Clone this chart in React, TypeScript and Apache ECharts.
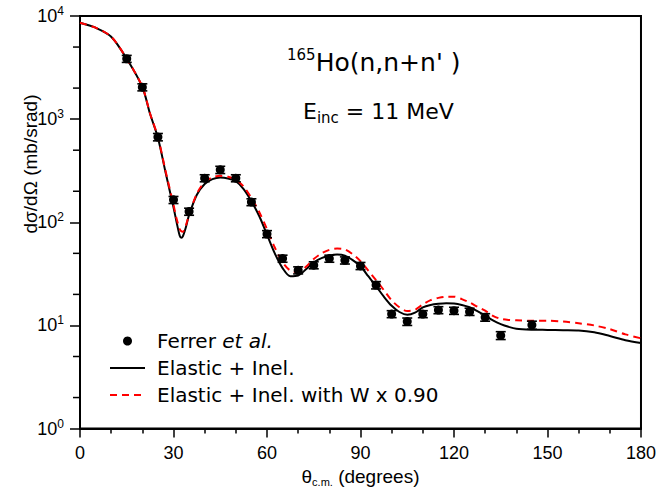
import { useEffect, useRef } from 'react';
import * as echarts from 'echarts';

// Angles (degrees, c.m.) at which the model curves are tabulated
const curveAngles = [
  0, 5, 10, 15, 20, 22.5, 25, 27.5, 30, 31, 32, 32.5, 33, 34, 35, 37.5, 40, 42.5, 45, 47.5,
  50, 52.5, 55, 57.5, 60, 62.5, 65, 67.5, 70, 72.5, 75, 77.5, 80, 82.5, 85, 87.5, 90, 92.5,
  95, 97.5, 100, 102.5, 105, 107.5, 110, 112.5, 115, 117.5, 120, 122.5, 125, 127.5, 130,
  132.5, 135, 137.5, 140, 145, 150, 155, 160, 165, 170, 175, 180,
];

// Elastic + inelastic calculation (mb/srad)
const elasticInel = [
  8600, 7700, 6300, 3850, 2050, 1120, 660, 300, 140, 100, 74, 71, 73, 90, 118, 185, 235, 262, 272, 266,
  250, 210, 160, 115, 76, 50, 36, 30, 30.5, 35, 41, 45, 47.5, 48.6, 47.5, 43, 37.5, 30,
  24, 19, 15.5, 13.5, 12.7, 13.3, 15, 15.8, 16.2, 16.4, 16.3, 15.8, 15, 13.8, 12.5,
  11.2, 10.3, 9.7, 9.3, 9.1, 9.05, 9.0, 8.95, 8.6, 7.9, 7.2, 6.75,
];

// Same calculation with the imaginary potential W scaled by 0.90
const elasticInelW090 = [
  8600, 7700, 6300, 3850, 2060, 1130, 670, 310, 148, 108, 86, 82, 81, 94, 118, 190, 245, 272, 282, 276,
  260, 222, 172, 126, 86, 57, 41, 34, 33, 37, 44, 50, 54, 55.6, 54.5, 49, 42, 34,
  27.5, 22, 17.5, 15, 13.8, 14.2, 16, 17.6, 18.5, 19, 19, 18, 16.7, 15.2, 13.9,
  12.4, 11.6, 11.3, 11.2, 11.1, 11.1, 10.9, 10.5, 10.0, 9.2, 8.2, 7.5,
];

// Ferrer et al. measurement
const ferrerAngles = [15, 20, 25, 30, 35, 40, 45, 50, 55, 60, 65, 70, 75, 80, 85, 90, 95, 100, 105, 110, 115, 120, 125, 130, 135, 145];
const ferrerValues = [3850, 2040, 671, 165, 127, 268, 323, 268, 157, 77, 44.5, 34.3, 38.4, 44.5, 42.8, 37.8, 24.6, 12.9, 10.9, 12.9, 14.1, 13.9, 13.6, 12.0, 8.0, 10.1];
const ferrerErrors = [300, 160, 55, 13, 10, 21, 26, 21, 12, 6, 3.5, 2.7, 3.0, 3.5, 3.4, 3.0, 2.0, 1.0, 0.9, 1.0, 1.1, 1.1, 1.1, 1.0, 0.7, 0.9];

// Log-axis minor tick positions (2 and 5 of every decade)
const minorTickValues = [2, 5, 20, 50, 200, 500, 2000, 5000];

const SANS = "'Liberation Sans', Arial, Helvetica, sans-serif";
const WIDE = "'DejaVu Sans', sans-serif";

export default function App() {
  const ref = useRef<HTMLDivElement>(null);

  useEffect(() => {
    if (!ref.current) return;
    const chart = echarts.init(ref.current, undefined, { renderer: 'svg' });

    const blackCurve = curveAngles.map((a, i) => [a, elasticInel[i]]);
    const redCurve = curveAngles.map((a, i) => [a, elasticInelW090[i]]);
    const points = ferrerAngles.map((a, i) => [a, ferrerValues[i]]);
    const errBars = ferrerAngles.map((a, i) => [a, ferrerValues[i] - ferrerErrors[i], ferrerValues[i] + ferrerErrors[i]]);

    chart.setOption({
      animation: false,
      backgroundColor: '#fff',
      title: [
        {
          text: "{s|165}{m|Ho(n,n+n' )}",
          left: 287,
          top: 47,
          padding: 0,
          textStyle: {
            fontWeight: 'normal',
            rich: {
              s: { fontFamily: WIDE, fontSize: 15, fontWeight: 'normal', color: '#000', verticalAlign: 'top', lineHeight: 15 },
              m: { fontFamily: WIDE, fontSize: 25, fontWeight: 'normal', color: '#000', lineHeight: 30 },
            },
          },
        },
        {
          text: '{m|E}{s|inc}{m| = 11 MeV}',
          left: 303,
          top: 97,
          padding: 0,
          textStyle: {
            fontWeight: 'normal',
            rich: {
              m: { fontFamily: WIDE, fontSize: 22, fontWeight: 'normal', color: '#000', lineHeight: 28 },
              s: { fontFamily: WIDE, fontSize: 15, fontWeight: 'normal', color: '#000', verticalAlign: 'bottom', lineHeight: 18 },
            },
          },
        },
      ],
      grid: {
        left: 80,
        right: 16,
        top: 16,
        bottom: 61,
        show: true,
        borderColor: '#000',
        borderWidth: 2,
        containLabel: false,
      },
      legend: {
        orient: 'vertical',
        left: 104,
        top: 326,
        itemWidth: 35,
        itemHeight: 9,
        itemGap: 7,
        selectedMode: false,
        data: [
          { name: 'Ferrer et al.' },
          { name: 'Elastic + Inel.', itemStyle: { opacity: 0 } },
          { name: 'Elastic + Inel. with W x 0.90', itemStyle: { opacity: 0 } },
        ],
        formatter: (name: string) => (name === 'Ferrer et al.' ? 'Ferrer {i|et al.}' : name),
        textStyle: {
          fontFamily: WIDE,
          fontSize: 20,
          color: '#000',
          padding: [0, 0, 0, 7],
          rich: {
            i: { fontFamily: WIDE, fontSize: 20, fontStyle: 'italic', color: '#000' },
          },
        },
      },
      xAxis: {
        type: 'value',
        min: 0,
        max: 180,
        interval: 30,
        name: '{t|θ}{s|c.m.}{t| (degrees)}',
        nameLocation: 'middle',
        nameGap: 36,
        nameTextStyle: {
          rich: {
            t: { fontFamily: SANS, fontSize: 19, color: '#000', lineHeight: 22 },
            s: { fontFamily: SANS, fontSize: 11, color: '#000', verticalAlign: 'bottom', lineHeight: 10 },
          },
        },
        axisLine: { show: true, lineStyle: { color: '#000', width: 2 } },
        axisTick: { show: true, inside: false, length: 9, lineStyle: { color: '#000', width: 1.5 } },
        minorTick: { show: true, splitNumber: 3, length: 5, lineStyle: { color: '#000', width: 1.5 } },
        splitLine: { show: false },
        axisLabel: { fontFamily: SANS, fontSize: 18, color: '#000', margin: 15 },
      },
      yAxis: {
        type: 'log',
        logBase: 10,
        min: 1,
        max: 10000,
        axisLine: { show: true, lineStyle: { color: '#000', width: 2 } },
        axisTick: { show: true, inside: false, length: 10, lineStyle: { color: '#000', width: 1.5 } },
        splitLine: { show: false },
        axisLabel: {
          margin: 16,
          formatter: (v: number) => '{b|10}{s|' + Math.round(Math.log10(v)) + '}',
          rich: {
            b: { fontFamily: SANS, fontSize: 18, color: '#000', lineHeight: 22 },
            s: { fontFamily: SANS, fontSize: 12, color: '#000', verticalAlign: 'top', lineHeight: 12 },
          },
        },
      },
      graphic: [
        {
          type: 'text',
          x: 30,
          y: 164,
          rotation: Math.PI / 2,
          style: {
            text: 'dσ/dΩ (mb/srad)',
            font: `19px ${SANS}`,
            fill: '#000',
            textAlign: 'center',
            textVerticalAlign: 'middle',
          },
        },
      ],
      series: [
        {
          name: 'Elastic + Inel.',
          type: 'line',
          data: blackCurve,
          symbol: 'none',
          smooth: 0.3,
          lineStyle: { color: '#000', width: 2 },
          itemStyle: { color: '#000' },
          z: 2,
        },
        {
          name: 'Elastic + Inel. with W x 0.90',
          type: 'line',
          data: redCurve,
          symbol: 'none',
          smooth: 0.3,
          lineStyle: { color: '#ff0000', width: 2, type: [7, 5] },
          itemStyle: { color: '#ff0000' },
          z: 3,
        },
        {
          name: 'ferrer-errors',
          type: 'custom',
          data: errBars,
          encode: { x: 0, y: [1, 2] },
          silent: true,
          z: 4,
          renderItem: (_params: any, api: any) => {
            const x = api.value(0);
            const lo = api.coord([x, api.value(1)]);
            const hi = api.coord([x, api.value(2)]);
            const hw = 5;
            const style = { stroke: '#000', lineWidth: 1.6 };
            return {
              type: 'group',
              children: [
                { type: 'line', shape: { x1: lo[0], y1: lo[1], x2: hi[0], y2: hi[1] }, style },
                { type: 'line', shape: { x1: lo[0] - hw, y1: lo[1], x2: lo[0] + hw, y2: lo[1] }, style },
                { type: 'line', shape: { x1: hi[0] - hw, y1: hi[1], x2: hi[0] + hw, y2: hi[1] }, style },
              ],
            };
          },
        },
        {
          name: 'Ferrer et al.',
          type: 'scatter',
          data: points,
          symbol: 'circle',
          symbolSize: 9,
          itemStyle: { color: '#000', opacity: 1 },
          z: 5,
        },
        {
          name: 'minor-ticks',
          type: 'scatter',
          data: minorTickValues.map((v) => [0, v]),
          symbol: 'rect',
          symbolSize: [6, 1.5],
          symbolOffset: [-4, 0],
          itemStyle: { color: '#000', opacity: 1 },
          silent: true,
          clip: false,
          z: 6,
        },
      ],
    });

    return () => chart.dispose();
  }, []);

  return <div ref={ref} style={{ position: 'fixed', left: 0, top: 0, width: 659, height: 492 }} />;
}
